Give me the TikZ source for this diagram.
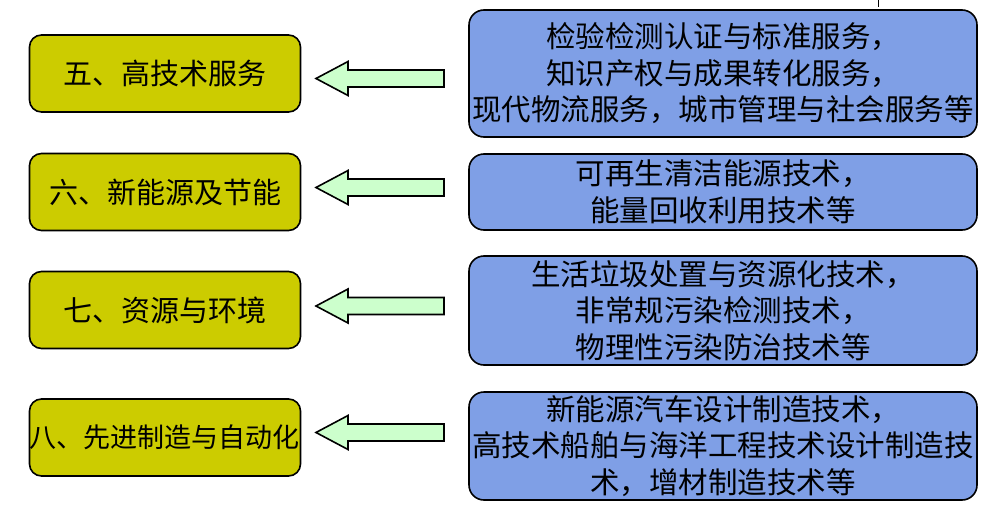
\documentclass[tikz,border=0pt]{standalone}
\usepackage{fontspec}
\newfontfamily\cjk{Noto Sans CJK SC}
\usepackage{tikz}
\definecolor{olivebox}{HTML}{CCCC00}
\definecolor{bluebox}{HTML}{7F9FE6}
\definecolor{greenarrow}{HTML}{CCFFCC}

\begin{document}
\begin{tikzpicture}[x=1pt,y=-1pt,
    topic/.style={draw, line width=1.6pt, fill=olivebox, rounded corners=12pt,
      minimum width=271pt, minimum height=77pt, inner sep=0pt,
      font=\cjk\fontsize{29}{36.5}\selectfont},
    detail/.style={draw, line width=1.6pt, fill=bluebox, rounded corners=15pt,
      minimum width=508pt, inner sep=0pt, align=center,
      font=\cjk\fontsize{29.5}{36.5}\selectfont},
    blockarrow/.style={draw, line width=1.6pt, fill=greenarrow}]
      \useasboundingbox (0,0) rectangle (1002,530);

      % left column
      \node[topic] (l1) at (165,73.5) {五、高技术服务};
      \node[topic] (l2) at (165,192) {六、新能源及节能};
      \node[topic] (l3) at (165,310) {七、资源与环境};
      \node[topic, font=\cjk\fontsize{27}{36}\selectfont] (l4) at (165,437.5) {八、先进制造与自动化};

      % right column
      \node[detail, minimum height=127pt] (r1) at (723,73.5)
        {检验检测认证与标准服务，\\知识产权与成果转化服务，\\现代物流服务，城市管理与社会服务等};
      \node[detail, minimum height=76pt] (r2) at (723,192)
        {可再生清洁能源技术，\\能量回收利用技术等};
      \node[detail, minimum height=109pt] (r3) at (723,310.5)
        {生活垃圾处置与资源化技术，\\非常规污染检测技术，\\物理性污染防治技术等};
      \node[detail, minimum height=108pt] (r4) at (723,446)
        {新能源汽车设计制造技术，\\高技术船舶与海洋工程技术设计制造技\\术，增材制造技术等};

      % arrows
      \foreach \y in {78.5,187.5,306,432.5}
        \draw[blockarrow] (444,\y-8.5) -- ++(-96,0) -- ++(0,-8.5) -- ++(-32,17)
          -- ++(32,17) -- ++(0,-8.5) -- ++(96,0) -- cycle;

      \draw[line width=1pt] (878,0) -- (878,7);
\end{tikzpicture}
\end{document}
